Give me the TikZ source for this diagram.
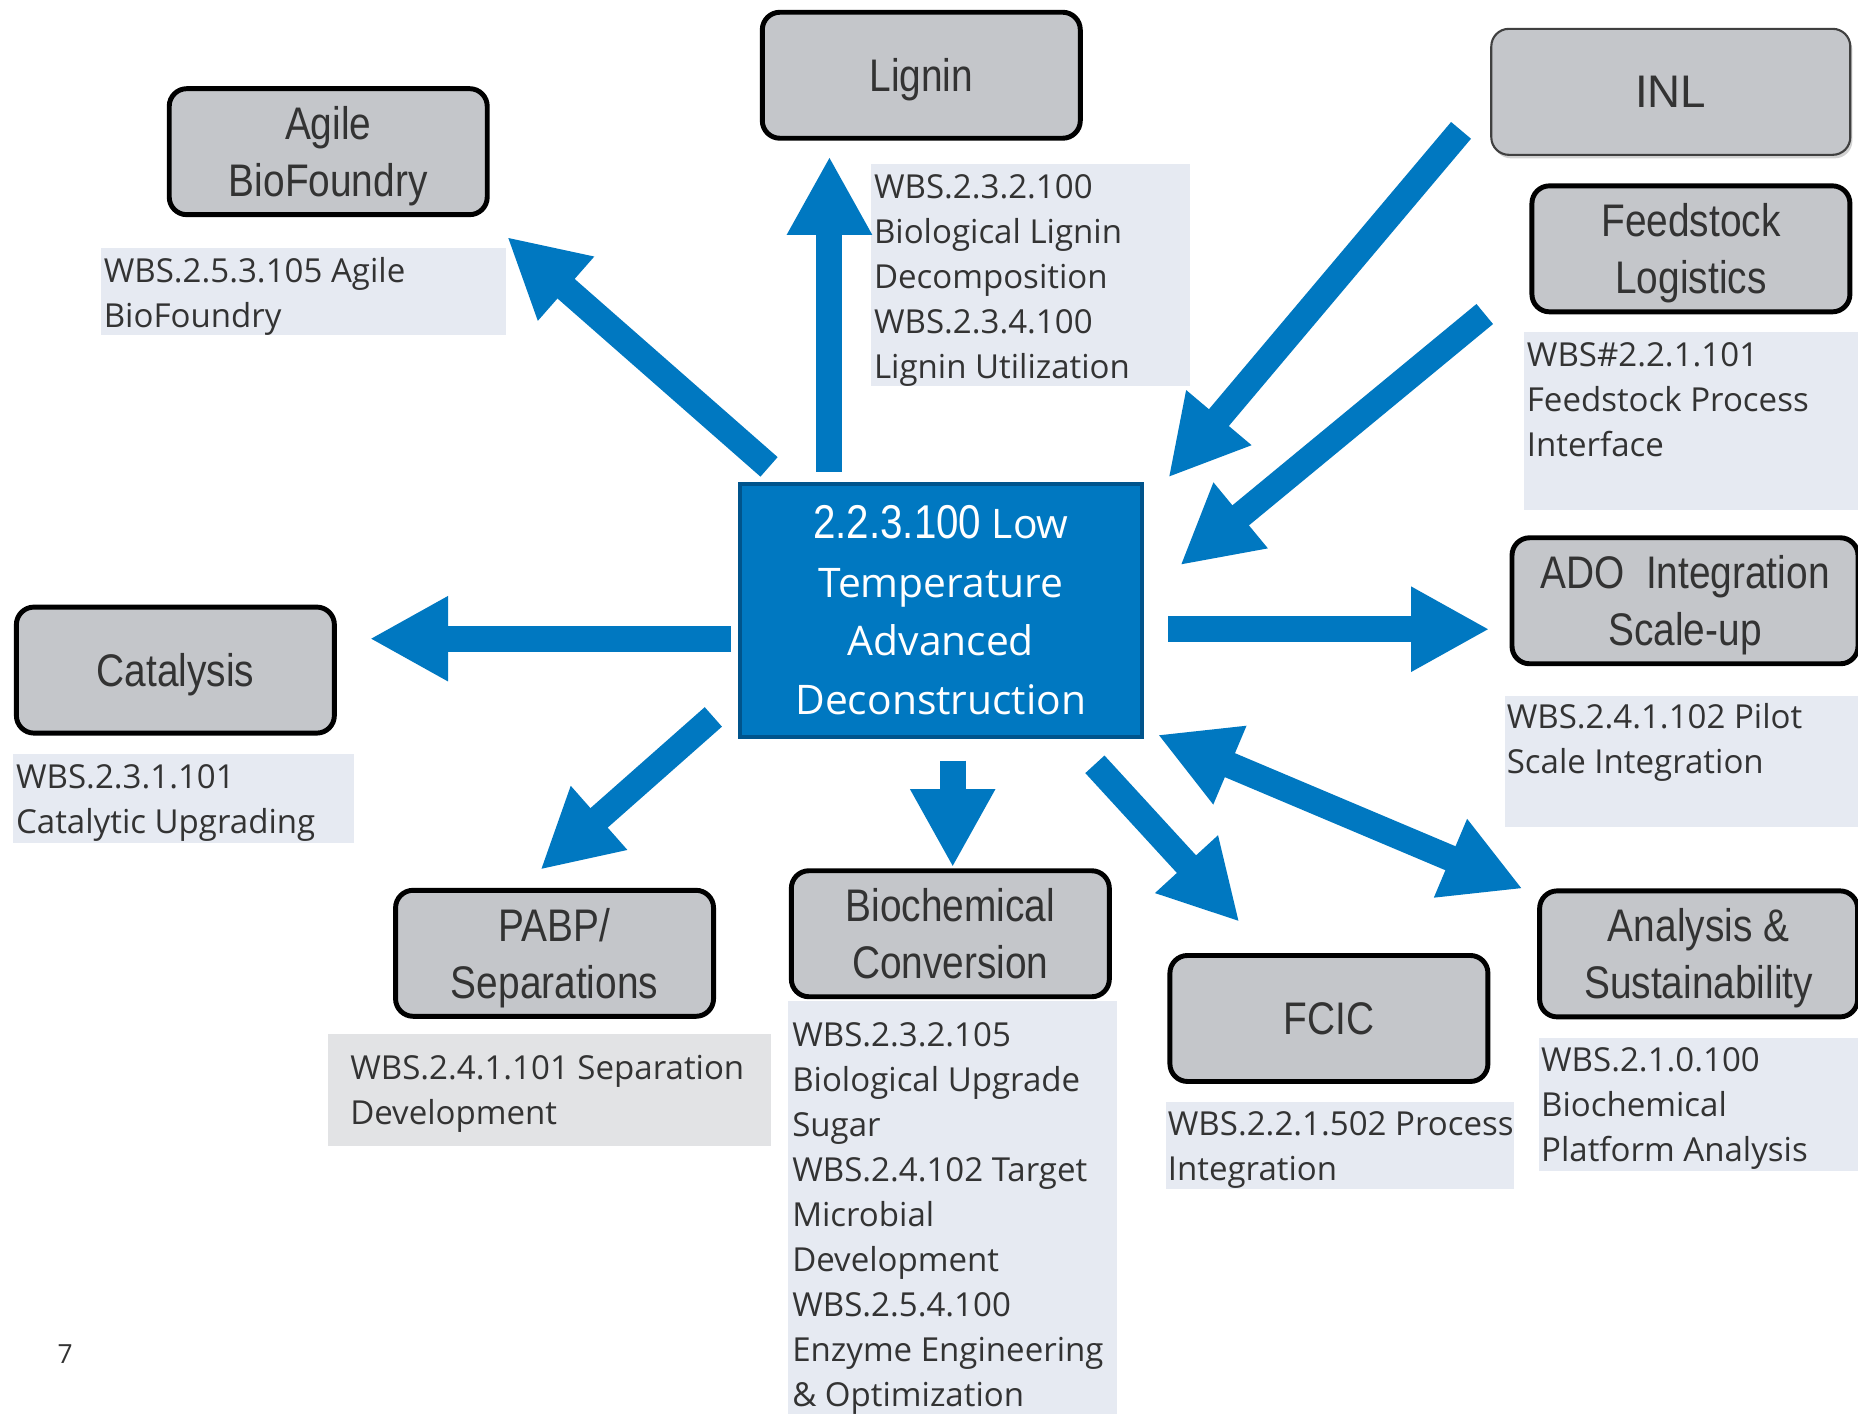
\documentclass[tikz,border=0pt]{standalone}
\usepackage{fontspec}
\setmainfont{Open Sans}
\newfontfamily\boxfont[FakeStretch=0.85]{Liberation Sans}
\newfontfamily\inlfont{Liberation Sans}
\usetikzlibrary{arrows.meta,shadows}

\definecolor{arrowblue}{RGB}{0,120,193}
\definecolor{centerborder}{RGB}{0,84,140}
\definecolor{boxgray}{RGB}{196,198,202}
\definecolor{labelbg}{RGB}{230,234,242}
\definecolor{pabpbg}{RGB}{226,227,229}
\definecolor{textgray}{RGB}{51,51,51}

\tikzset{
  blockarrow/.style={line width=7.4pt, draw=arrowblue, -{Triangle[length=22.3pt,width=22.6pt]}},
  twoway/.style={blockarrow, {Triangle[length=22.3pt,width=22.6pt]}-{Triangle[length=22.3pt,width=22.6pt]}},
  areabox/.style={draw=black, line width=1.4pt, fill=boxgray, rounded corners=5pt, minimum width=31.8mm, minimum height=12.6mm, align=center, text=textgray, font=\boxfont\fontsize{13}{16.2}\selectfont, inner sep=0pt, text depth=0pt},
  wbstext/.style={anchor=base west, inner sep=0pt, align=left, text=textgray, font=\fontsize{9.4}{12.8}\selectfont},
}

\begin{document}
\begin{tikzpicture}[x=0.1185mm, y=-0.1185mm]
			%%%%% START %%%%%
			\useasboundingbox[fill=white] (0,0) rectangle (1568,1195);

			% centre project
			\node[draw=centerborder, line width=1pt, fill=arrowblue, minimum width=40.2mm, minimum height=25.3mm, inner sep=0pt, text=white, align=center, font=\fontsize{11.6}{16.7}\selectfont] (ctr) at (794,515) {{\boxfont\fontsize{13.5}{16.7}\selectfont 2.2.3.100} Low\\Temperature\\Advanced\\Deconstruction};

			% partner boxes
			\node[areabox] (agile) at (277,128) {Agile\\BioFoundry};
			\node[areabox] (lignin) at (777.5,63.5) {Lignin};
			\node[areabox, draw=black!75, line width=0.6pt, minimum width=35.9mm, font=\inlfont\fontsize{13}{16.2}\selectfont, drop shadow={shadow xshift=0.6pt, shadow yshift=-1pt, opacity=0.35}] (inl) at (1410,77.5) {INL};
			\node[areabox] (feed) at (1427,210) {Feedstock\\Logistics};
			\node[areabox] (cat) at (148,565.5) {Catalysis};
			\node[areabox, minimum width=34.6mm] (ado) at (1422,507) {ADO\ \ Integration\\Scale-up};
			\node[areabox] (pabp) at (468,804.5) {PABP/\\Separations};
			\node[areabox] (biochem) at (802,788) {Biochemical\\Conversion};
			\node[areabox] (fcic) at (1121.5,859.5) {FCIC};
			\node[areabox] (anal) at (1433.5,805) {Analysis \&\\Sustainability};

			% WBS labels (placed at the baseline of their last line)
			\fill[labelbg] (85,209) rectangle (427,283);
			\node[wbstext] (agile-wbs) at (87,276) {WBS.2.5.3.105 Agile\\BioFoundry};
			\fill[labelbg] (735,138) rectangle (1004,326);
			\node[wbstext] (lignin-wbs) at (737,319) {WBS.2.3.2.100\\Biological Lignin\\Decomposition\\WBS.2.3.4.100\\Lignin Utilization};
			\fill[labelbg] (1286,280) rectangle (1568,430);
			\node[wbstext] (feed-wbs) at (1288,385) {WBS\#2.2.1.101\\Feedstock Process\\Interface};
			\fill[labelbg] (1270,587) rectangle (1568,698);
			\node[wbstext] (ado-wbs) at (1271,653) {WBS.2.4.1.102 Pilot\\Scale Integration};
			\fill[labelbg] (11,636) rectangle (299,711);
			\node[wbstext] (cat-wbs) at (13,703) {WBS.2.3.1.101\\Catalytic Upgrading};
			\fill[pabpbg] (277,873) rectangle (651,967);
			\node[wbstext] (pabp-wbs) at (295,949) {WBS.2.4.1.101 Separation\\Development};
			\fill[labelbg] (665,845) rectangle (943,1193);
			\node[wbstext] (biochem-wbs) at (668,1187) {WBS.2.3.2.105\\Biological Upgrade\\Sugar\\WBS.2.4.102 Target\\Microbial\\Development\\WBS.2.5.4.100\\Enzyme Engineering\\\& Optimization};
			\fill[labelbg] (984,930) rectangle (1278,1003);
			\node[wbstext] (fcic-wbs) at (985,996) {WBS.2.2.1.502 Process\\Integration};
			\fill[labelbg] (1299,876) rectangle (1568,988);
			\node[wbstext] (anal-wbs) at (1300,980) {WBS.2.1.0.100\\Biochemical\\Platform Analysis};

			\node[text=textgray, inner sep=0pt, font=\fontsize{7.5}{9}\selectfont] (pagenum) at (55,1143) {7};

			% arrow ends
			\coordinate (cat-s) at (617,539);      \coordinate (cat-e) at (312,539);
			\coordinate (lignin-s) at (700,398);   \coordinate (lignin-e) at (700,132);
			\coordinate (agile-s) at (649,394);    \coordinate (agile-e) at (428,200);
			\coordinate (inl-s) at (1233,110);     \coordinate (inl-e) at (986,403);
			\coordinate (feed-s) at (1253,265);    \coordinate (feed-e) at (996,477);
			\coordinate (ado-s) at (986,531);      \coordinate (ado-e) at (1257,531);
			\coordinate (pabp-s) at (602,605);     \coordinate (pabp-e) at (456,734);
			\coordinate (biochem-s) at (804,642);  \coordinate (biochem-e) at (804,732);
			\coordinate (fcic-s) at (924,645);     \coordinate (fcic-e) at (1046,778);
			\coordinate (anal-s) at (977,620);     \coordinate (anal-e) at (1285,750);

			\foreach \a in {cat,lignin,agile,inl,feed,ado,pabp,biochem,fcic}
				\draw[blockarrow] (\a-s) -- (\a-e);
			\draw[twoway] (anal-s) -- (anal-e);

			%%%%% END %%%%%
\end{tikzpicture}
\end{document}
